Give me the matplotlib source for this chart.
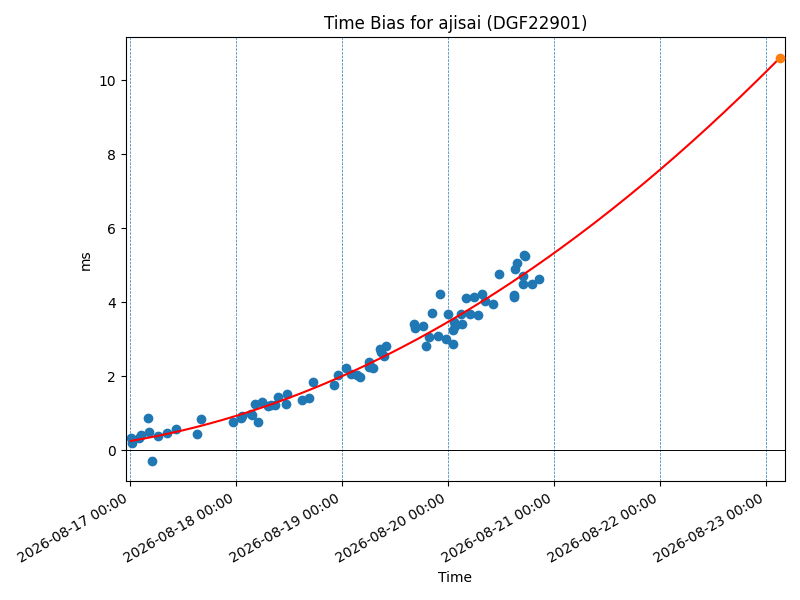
import numpy as np
import matplotlib
matplotlib.use('Agg')
import matplotlib.pyplot as plt
import matplotlib.dates as mdates

start = np.datetime64('2026-08-17T00:00')

# measurement times (days after start) and time bias (ms)
days = [0.01, 0.02, 0.085, 0.11, 0.17, 0.18, 0.21, 0.27, 0.35, 0.44,
        0.63, 0.67, 0.97, 1.05, 1.06, 1.14, 1.15, 1.21, 1.18, 1.25,
        1.30, 1.33, 1.37, 1.40, 1.47, 1.48, 1.62, 1.69, 1.73, 1.93,
        1.96, 2.04, 2.09, 2.14, 2.17, 2.26, 2.26, 2.29, 2.36, 2.37,
        2.42, 2.40, 2.68, 2.69, 2.77, 2.79, 2.82, 2.85, 2.91, 2.93,
        2.98, 3.00, 3.05, 3.05, 3.06, 3.07, 3.12, 3.13, 3.17, 3.21,
        3.25, 3.28, 3.32, 3.35, 3.43, 3.48, 3.62, 3.62, 3.63, 3.65,
        3.71, 3.71, 3.72, 3.73, 3.79, 3.86]
bias = [0.34, 0.20, 0.32, 0.42, 0.88, 0.48, -0.30, 0.38, 0.47, 0.56,
        0.43, 0.84, 0.76, 0.86, 0.93, 0.99, 0.95, 0.75, 1.26, 1.31,
        1.20, 1.21, 1.22, 1.44, 1.24, 1.53, 1.35, 1.40, 1.83, 1.76,
        2.03, 2.21, 2.07, 2.03, 1.98, 2.37, 2.25, 2.21, 2.73, 2.66,
        2.82, 2.55, 3.40, 3.31, 3.35, 2.81, 3.05, 3.72, 3.08, 4.22,
        3.00, 3.69, 2.86, 3.26, 3.47, 3.35, 3.69, 3.42, 4.10, 3.69,
        4.13, 3.65, 4.22, 4.04, 3.95, 4.76, 4.19, 4.14, 4.91, 5.06,
        4.70, 4.50, 5.27, 5.24, 4.49, 4.64]

target_day = 6.135
midnights = np.arange(0, 7)

def to_time(d):
    return start + (np.asarray(d) * 86400).astype('timedelta64[s]')

coef = np.polyfit(days, bias, 2)
fit_days = np.linspace(days[0], target_day, 200)
fit_vals = np.polyval(coef, fit_days)

fig, ax = plt.subplots(figsize=(8, 6), dpi=100)
for d in midnights:
    ax.axvline(to_time(d), color='C0', linestyle='--', linewidth=0.5)
ax.axhline(0, color='black', linewidth=0.7)
ax.scatter(to_time(days), bias)
ax.plot(to_time(fit_days), fit_vals, color='red')
ax.scatter([to_time(target_day)], [np.polyval(coef, target_day)], color='C1', zorder=3)

ax.set_xlim(to_time(-0.038), to_time(6.18))
ax.xaxis.set_major_locator(mdates.DayLocator())
ax.xaxis.set_major_formatter(mdates.DateFormatter('%Y-%m-%d %H:%M'))
ax.set_title('Time Bias for ajisai (DGF22901)')
ax.set_xlabel('Time')
ax.set_ylabel('ms')
fig.autofmt_xdate()
fig.tight_layout()
fig.savefig('out.png')
